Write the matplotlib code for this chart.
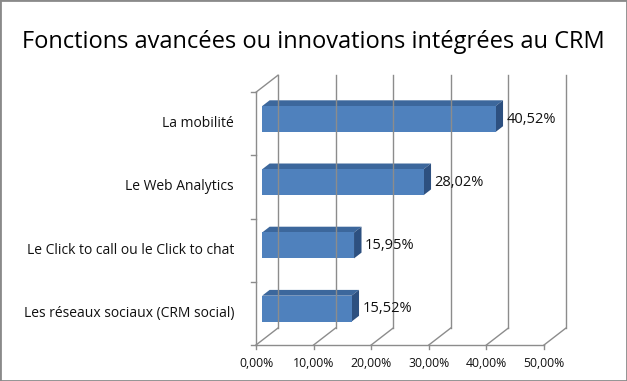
import matplotlib.pyplot as plt
from matplotlib.patches import Polygon, Rectangle
import numpy as np

plt.rcParams['font.family'] = ['Open Sans', 'DejaVu Sans']

title = "Fonctions avancées ou innovations intégrées au CRM"
categories = ["Les réseaux sociaux (CRM social)", "Le Click to call ou le Click to chat",
              "Le Web Analytics", "La mobilité"]
values = [15.52, 15.95, 28.02, 40.52]
ticks = [0, 10, 20, 30, 40, 50]
tick_labels = ["0,00%", "10,00%", "20,00%", "30,00%", "40,00%", "50,00%"]

W, H = 627, 381
# pixel scale of the front plane
x0_px, xs = 256, 5.76      # px of 0 % and px per 1 %
y0_px, ys = 345, 63.2      # px of category floor and px per category
depth_dx, depth_dy = 22 / xs, 17 / ys   # full depth offset in data units

fig = plt.figure(figsize=(W / 100, H / 100), dpi=100)
ax = fig.add_axes([0, 0, 1, 1])
ax.set_xlim(-x0_px / xs, (W - x0_px) / xs)
ax.set_ylim((y0_px - H) / ys, y0_px / ys)
ax.axis('off')

grid_c = '#8c8c8c'
n = len(categories)
xmax = ticks[-1]

def off(x, y, d):
    return x + d * depth_dx, y + d * depth_dy

# back wall gridlines + floor diagonals
for t in ticks:
    bx, by = off(t, 0, 1)
    ax.plot([bx, bx], [by, n + depth_dy], color=grid_c, lw=1)
    ax.plot([t, bx], [0, by], color=grid_c, lw=1)
    ax.plot([t, t], [0, -0.06], color=grid_c, lw=1)
# floor front line
ax.plot([0, xmax], [0, 0], color=grid_c, lw=1)
# left wall
ax.plot([0, 0], [0, n], color=grid_c, lw=1)
ax.plot([0, depth_dx], [n, n + depth_dy], color=grid_c, lw=1)
for i in range(n + 1):
    ax.plot([-0.9, 0], [i, i], color=grid_c, lw=1)

# bars
d0, d1 = 0.28, 0.62
bh = 0.41
front_c, top_c, side_c = '#4f81bd', '#3c679c', '#2d5080'
for i, v in enumerate(values):
    yb = i + 0.5 - bh / 2
    fx, fy = off(0, yb, d0)
    bxo, byo = (d1 - d0) * depth_dx, (d1 - d0) * depth_dy
    top = [(fx, fy + bh), (fx + v, fy + bh), (fx + v + bxo, fy + bh + byo), (fx + bxo, fy + bh + byo)]
    side = [(fx + v, fy), (fx + v + bxo, fy + byo), (fx + v + bxo, fy + bh + byo), (fx + v, fy + bh)]
    ax.add_patch(Polygon(top, closed=True, fc=top_c, ec='none'))
    ax.add_patch(Polygon(side, closed=True, fc=side_c, ec='none'))
    ax.add_patch(Rectangle((fx, fy), v, bh, fc=front_c, ec='none'))
    ax.text(fx + v + bxo + 0.6, fy + bh / 2, f"{v:.2f}%".replace('.', ','),
            ha='left', va='center', fontsize=10.5, color='#111111')
    ax.text(-3.8, i + 0.5, categories[i], ha='right', va='center',
            fontsize=10, color='#111111')

for t, lab in zip(ticks, tick_labels):
    ax.text(t, -0.29, lab, ha='center', va='center', fontsize=8.8, color='#111111')

fig.text(0.5, 1 - 42 / H, title, ha='center', va='center', fontsize=17, color='#000000')

fig.add_artist(Rectangle((0, 0), 1, 1, transform=fig.transFigure, fill=False,
                         ec='#8a8a8a', lw=2))

fig.savefig('out.png', dpi=100)
